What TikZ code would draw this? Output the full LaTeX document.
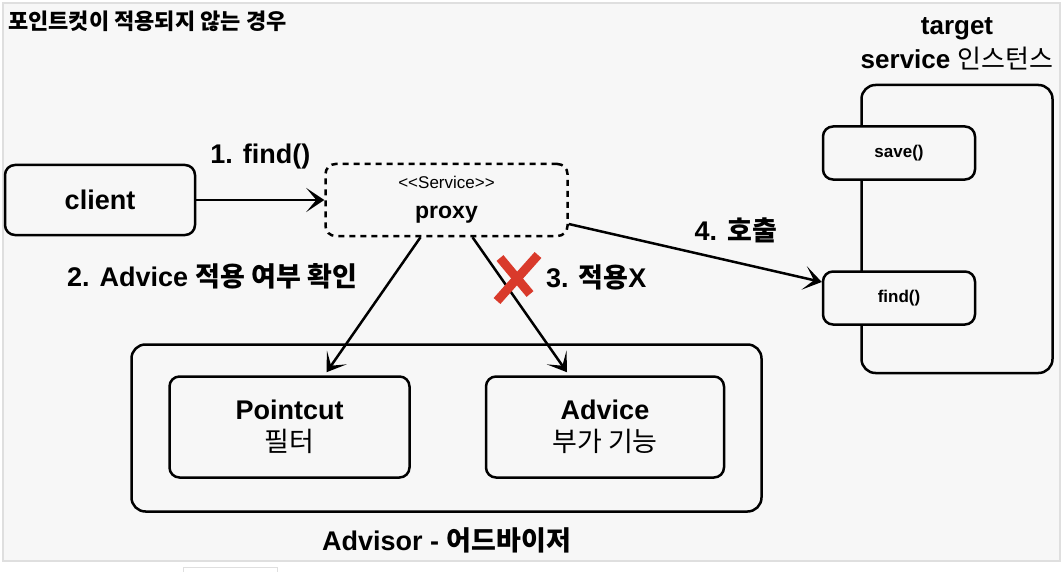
\documentclass[tikz,border=0pt]{standalone}
\usepackage{fontspec}
\setmainfont{Liberation Sans}
\newfontfamily\kr{Noto Sans CJK KR}
\usepackage{tikz}
\usetikzlibrary{arrows.meta}
\usetikzlibrary{positioning}
\usetikzlibrary{calc}
\definecolor{bgc}{HTML}{F7F7F7}
\definecolor{xred}{HTML}{D93A2B}
\tikzset{
  box/.style={draw, rounded corners=10pt, line width=2.5pt, fill=bgc, inner sep=0pt, align=center},
  lbl/.style={inner sep=0pt, font=\bfseries\fontsize{27}{31}\selectfont},
}
\begin{document}
\begin{tikzpicture}[x=1pt,y=-1pt,line width=2.5pt,>={Stealth[length=18pt,width=24pt,inset=10pt]}]
   \useasboundingbox (0,0) rectangle (1064,572);
   \fill[white] (0,0) rectangle (1064,572);
   \draw[gray!25, line width=1.5pt, fill=bgc] (3,3) rectangle (1060,561);
   \draw[gray!25, line width=1pt, fill=white] (183,567) rectangle (277,590);
   \node[lbl, font=\bfseries\fontsize{22}{26}\selectfont, anchor=west] (title) at (7,21) {\kr 포인트컷이 적용되지 않는 경우};
   \node[box, minimum width=190pt, minimum height=70pt, font=\bfseries\fontsize{27}{31}\selectfont] (client) at (100,200) {client};
   \node[box, dash pattern=on 6pt off 5pt, minimum width=242pt, minimum height=72pt, font=\fontsize{17}{30}\selectfont] (proxy) [right=128pt of client]
      {<\kern0pt<Service>\kern0pt>\\{\bfseries\fontsize{23}{30}\selectfont proxy}};
   \node[box, rounded corners=14pt, minimum width=630pt, minimum height=167pt] (advisor) [below=106pt of proxy] {};
   \node[box, minimum width=240pt, minimum height=101pt, font=\fontsize{27}{32}\selectfont] (pointcut) [below right=32pt and 38pt of advisor.north west]
      {\textbf{Pointcut}\\{\kr 필터}};
   \node[box, minimum width=238pt, minimum height=101pt, font=\fontsize{27}{32}\selectfont] (advice) [right=74pt of pointcut]
      {\textbf{Advice}\\{\kr 부가 기능}};
   \node[lbl, font=\bfseries\fontsize{27}{31}\selectfont] (advisorlabel) [below=14pt of advisor] {Advisor - {\kr 어드바이저}};
   \node[box, rounded corners=14pt, minimum width=191pt, minimum height=288pt] (target) at (957,229) {};
   \node[box, minimum width=152pt, minimum height=53pt, font=\bfseries\fontsize{17}{20}\selectfont] (save) at (899,153) {save()};
   \node[box, minimum width=152pt, minimum height=53pt, font=\bfseries\fontsize{17}{20}\selectfont] (find) at (899,298) {find()};
   \node[lbl, font=\fontsize{26}{34}\selectfont, align=center] (targetlabel) [above=12pt of target] {\textbf{target}\\\textbf{service} {\kr 인스턴스}};
    \path[->] 
    (client) edge node[lbl, above=30pt] {1. find()} (proxy)
    ($(proxy.south)+(-26,0)$) edge node[lbl, pos=.29, left=35pt] {2. Advice {\kr 적용 여부 확인}} ($(pointcut.north)+(37,-3)$)
    ($(proxy.south)+(26,0)$) edge node[lbl, pos=.3, right=44pt] {3. {\kr 적용}X} ($(advice.north)+(-38,-3)$)
    ($(proxy.east)+(0,24)$) edge node[lbl, pos=.66, above=18pt] {4. {\kr 호출}} ($(find.west)+(0,-16)$);
   % red cross on the third arrow
   \draw[xred, line width=9pt] (500,258) -- (530,294);
   \draw[xred, line width=9pt] (538,255) -- (497,301);
\end{tikzpicture}
\end{document}
